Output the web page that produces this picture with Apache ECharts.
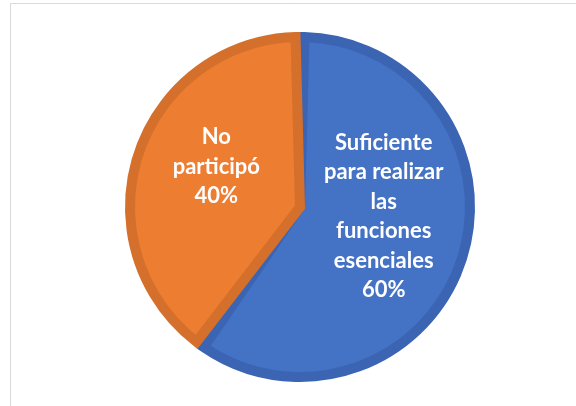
<!DOCTYPE html>
<html>
<head>
<meta charset="utf-8">
<script src="https://cdn.jsdelivr.net/npm/echarts@6/dist/echarts.min.js"></script>
<style>
  html, body { margin: 0; padding: 0; background: #ffffff; }
  #chart { width: 576px; height: 406px; }
</style>
</head>
<body>
<div id="chart"></div>
<script>
// Slice names (line breaks as shown inside each slice) and their shares
const categories = ['Suficiente\npara realizar\nlas\nfunciones\nesenciales', 'No\nparticipó'];
const values = [60, 40];
const fillColors = ['#4472C4', '#ED7D31'];
const edgeColors = ['#3B64B2', '#D4702B'];
// Height of an empty trailing line that lifts each label block a little
const labelLift = [36, 26];

function draw() {
  const chart = echarts.init(document.getElementById('chart'), null, { renderer: 'canvas' });
  chart.setOption({
    backgroundColor: '#ffffff',
    animation: false,
    graphic: [{
      type: 'rect',
      shape: { x: 10.5, y: 3.5, width: 700, height: 500 },
      style: { fill: 'none', stroke: '#D9D9D9', lineWidth: 1 },
      silent: true
    }],
    series: [{
      type: 'pie',
      center: [300, 207],
      radius: [0, 170],
      startAngle: 90,
      clockwise: true,
      padAngle: 3,
      data: categories.map((name, i) => ({
        name: name,
        value: values[i],
        itemStyle: {
          color: fillColors[i],
          borderColor: edgeColors[i],
          borderWidth: 10,
          borderJoin: 'miter'
        }
      })),
      label: {
        show: true,
        position: 'inside',
        formatter: function (p) {
          return p.name + '\n' + p.percent + '%\n{g' + p.dataIndex + '| }';
        },
        color: '#ffffff',
        fontFamily: 'Lato',
        fontWeight: 'bold',
        fontSize: 22,
        lineHeight: 29.5,
        align: 'center',
        rich: {
          g0: { fontSize: 2, lineHeight: labelLift[0] },
          g1: { fontSize: 2, lineHeight: labelLift[1] }
        }
      },
      labelLine: { show: false },
      emphasis: { disabled: true }
    }]
  });
}

// Make sure the label font is ready before text is measured
if (document.fonts && document.fonts.load) {
  document.fonts.load('bold 22px Lato').then(draw, draw);
} else {
  draw();
}
</script>
</body>
</html>
